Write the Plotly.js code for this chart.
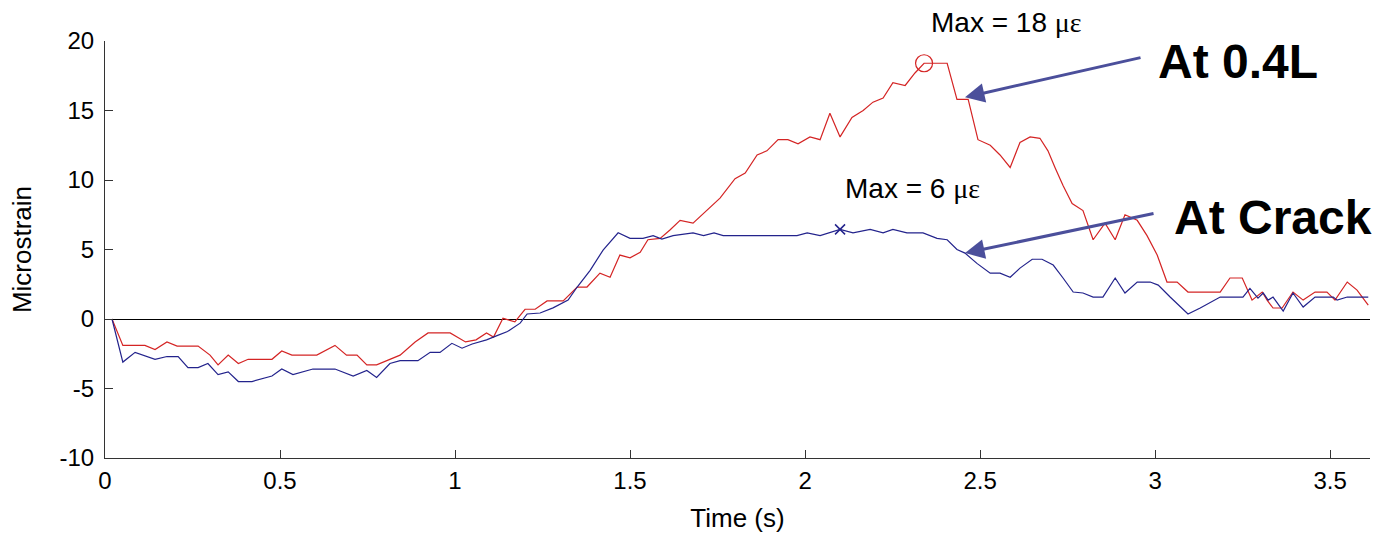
<!DOCTYPE html>
<html>
<head>
<meta charset="utf-8">
<script src="https://cdn.plot.ly/plotly-3.0.1.min.js"></script>
<style>
html,body{margin:0;padding:0;background:#fff;}
#chart{width:1375px;height:537px;}
</style>
</head>
<body>
<div id="chart"></div>
<script>
// Strain at 0.4L (red)
const tRed = [0.02,0.051,0.114,0.143,0.177,0.206,0.266,0.3,0.323,0.352,0.381,0.409,0.477,0.505,0.534,0.605,0.657,0.69,0.72,0.748,0.776,0.814,0.843,0.886,0.923,0.986,1.03,1.06,1.09,1.11,1.137,1.171,1.2,1.229,1.263,1.309,1.349,1.377,1.414,1.443,1.471,1.5,1.529,1.551,1.586,1.614,1.643,1.68,1.72,1.757,1.8,1.829,1.863,1.891,1.923,1.951,1.98,2.014,2.043,2.071,2.1,2.134,2.166,2.194,2.223,2.251,2.286,2.314,2.34,2.371,2.406,2.434,2.466,2.494,2.529,2.557,2.586,2.614,2.643,2.671,2.694,2.714,2.737,2.763,2.794,2.823,2.857,2.886,2.914,2.949,2.977,3.006,3.034,3.063,3.094,3.186,3.214,3.249,3.277,3.306,3.32,3.337,3.363,3.394,3.423,3.457,3.491,3.514,3.549,3.577,3.609];
const vRed = [0,-1.9,-1.9,-2.2,-1.65,-1.95,-1.95,-2.6,-3.3,-2.6,-3.2,-2.9,-2.9,-2.3,-2.6,-2.6,-1.9,-2.6,-2.6,-3.3,-3.3,-2.9,-2.6,-1.65,-1.0,-1.0,-1.65,-1.5,-1.0,-1.3,0.05,-0.2,0.7,0.7,1.3,1.3,2.3,2.3,3.3,3.0,4.6,4.4,4.8,5.7,5.8,6.4,7.1,6.9,7.8,8.7,10.1,10.5,11.8,12.1,12.9,12.9,12.6,13.1,12.9,14.8,13.1,14.5,15.0,15.6,15.9,17.0,16.8,17.7,18.4,18.4,18.4,15.8,15.8,12.9,12.5,11.8,10.9,12.7,13.1,13.0,12.1,10.9,9.6,8.3,7.8,5.7,6.9,5.7,7.5,7.1,6.0,4.6,2.66,2.66,1.94,1.94,2.95,2.95,1.36,1.94,1.36,0.79,0.79,1.94,1.36,1.94,1.94,1.36,2.66,2.08,1.0];

// Strain at crack (blue)
const tBlue = [0.02,0.051,0.086,0.143,0.177,0.209,0.237,0.266,0.294,0.323,0.352,0.381,0.42,0.477,0.505,0.537,0.594,0.657,0.709,0.748,0.776,0.814,0.843,0.894,0.929,0.957,0.991,1.02,1.049,1.09,1.12,1.15,1.186,1.206,1.243,1.28,1.323,1.349,1.386,1.423,1.466,1.5,1.537,1.566,1.591,1.623,1.68,1.71,1.74,1.766,1.977,2.006,2.043,2.1,2.137,2.186,2.223,2.251,2.291,2.337,2.377,2.406,2.434,2.457,2.491,2.529,2.557,2.586,2.614,2.649,2.677,2.709,2.737,2.766,2.794,2.823,2.851,2.886,2.914,2.949,2.986,3.009,3.043,3.094,3.129,3.186,3.251,3.271,3.294,3.309,3.323,3.337,3.366,3.394,3.423,3.457,3.509,3.52,3.549,3.609];
const vBlue = [0,-3.1,-2.4,-2.9,-2.7,-2.7,-3.5,-3.5,-3.2,-4.0,-3.8,-4.5,-4.5,-4.1,-3.6,-4.0,-3.6,-3.6,-4.1,-3.7,-4.2,-3.2,-3.0,-3.0,-2.4,-2.4,-1.75,-2.1,-1.8,-1.5,-1.2,-0.9,-0.3,0.36,0.43,0.8,1.36,2.3,3.5,4.96,6.2,5.8,5.8,6.0,5.75,6.0,6.2,6.0,6.2,6.0,6.0,6.2,6.0,6.45,6.2,6.45,6.2,6.45,6.2,6.2,5.8,5.7,5.0,4.74,4.0,3.3,3.3,3.0,3.66,4.3,4.3,3.88,2.95,1.94,1.87,1.58,1.58,2.95,1.87,2.66,2.66,2.44,1.58,0.36,0.79,1.58,1.58,2.2,1.5,1.87,1.36,1.58,0.57,1.87,0.86,1.58,1.58,1.36,1.58,1.58];

const maxRed = {t: 2.34, v: 18.4};
const maxBlue = {t: 2.1, v: 6.45};
const xTicks = [0,0.5,1,1.5,2,2.5,3,3.5];
const xTickText = ['0','0.5','1','1.5','2','2.5','3','3.5'];
const yTicks = [-10,-5,0,5,10,15,20];
const yTickText = ['-10','-5','0','5','10','15','20'];

const RED = '#d42424';
const BLUE = '#23238c';
const ARROW = '#4b4f9b';
const FONT = 'Liberation Sans, Arial, sans-serif';
const SERIF = 'Liberation Serif, Times New Roman, serif';

const traces = [
  {x: tRed, y: vRed, type: 'scatter', mode: 'lines', line: {color: RED, width: 1.2}, hoverinfo: 'skip'},
  {x: tBlue, y: vBlue, type: 'scatter', mode: 'lines', line: {color: BLUE, width: 1.2}, hoverinfo: 'skip'},
  {x: [maxRed.t], y: [maxRed.v], type: 'scatter', mode: 'markers',
   marker: {symbol: 'circle-open', size: 17, color: RED, line: {width: 1.2, color: RED}}},
  {x: [maxBlue.t], y: [maxBlue.v], type: 'scatter', mode: 'markers',
   marker: {symbol: 'x-thin-open', size: 10, color: BLUE, line: {width: 1.5, color: BLUE}}}
];

const mu = '<span style="font-family:' + SERIF + '">\u03bc\u03b5</span>';

const layout = {
  width: 1375, height: 537,
  margin: {l: 105, r: 5, t: 41, b: 79},
  paper_bgcolor: '#fff', plot_bgcolor: '#fff',
  showlegend: false,
  font: {family: FONT, color: '#000', size: 22},
  xaxis: {
    range: [0, 3.614], tickvals: xTicks, ticktext: xTickText, ticks: 'inside', ticklen: 8, tickcolor: '#333',
    showline: true, linecolor: '#333', linewidth: 1, showgrid: false, zeroline: false,
    tickfont: {size: 24, family: FONT}, ticklabelstandoff: 1,
    title: {text: 'Time (s)', font: {size: 26, family: FONT}, standoff: 16}
  },
  yaxis: {
    range: [-10, 20], tickvals: yTicks, ticktext: yTickText, ticks: 'inside', ticklen: 8, tickcolor: '#333',
    showline: true, linecolor: '#333', linewidth: 1, showgrid: false,
    zeroline: true, zerolinecolor: '#000', zerolinewidth: 1,
    tickfont: {size: 24, family: FONT}, ticklabelstandoff: 5,
    title: {text: 'Microstrain', font: {size: 26, family: FONT}, standoff: 20}
  },
  annotations: [
    {px: 1006, py: 22, text: 'Max = 18 ' + mu, font: {size: 28, family: FONT}},
    {px: 912, py: 188, text: 'Max = 6 ' + mu, font: {size: 28, family: FONT}},
    {x: 2.457, y: 15.95, xref: 'x', yref: 'y', ax: 177, ay: -40, text: '', showarrow: true,
     arrowhead: 2, arrowsize: 1.3, arrowwidth: 3, arrowcolor: ARROW},
    {x: 2.457, y: 4.74, xref: 'x', yref: 'y', ax: 190, ay: -40, text: '', showarrow: true,
     arrowhead: 2, arrowsize: 1.3, arrowwidth: 3, arrowcolor: ARROW},
    {px: 1238, py: 61, text: '<b>At 0.4L</b>', font: {size: 48, family: FONT}},
    {px: 1273, py: 217, text: '<b>At Crack</b>', font: {size: 48, family: FONT}}
  ]
};

// place text labels by their pixel position on the page (paper coordinates)
const plotW = 1375 - 105 - 5, plotH = 537 - 41 - 79;
layout.annotations.forEach(a => {
  if (a.px !== undefined) {
    a.xref = 'paper'; a.yref = 'paper';
    a.x = (a.px - 105) / plotW;
    a.y = 1 - (a.py - 41) / plotH;
    a.xanchor = 'center'; a.yanchor = 'middle';
    a.showarrow = false;
    delete a.px; delete a.py;
  }
});

Plotly.newPlot('chart', traces, layout, {displayModeBar: false, staticPlot: true});
</script>
</body>
</html>
